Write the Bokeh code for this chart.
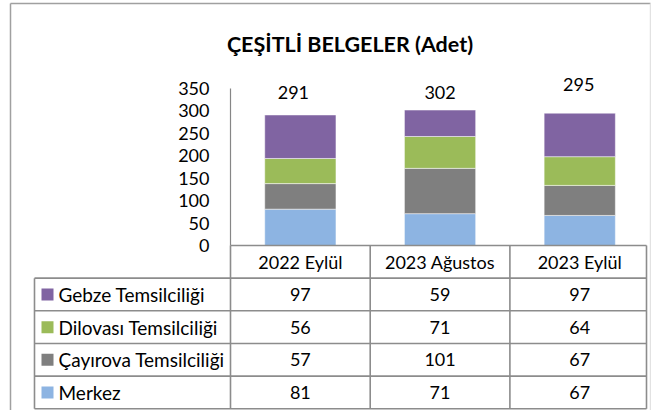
from bokeh.plotting import figure
from bokeh.models import Range1d, ColumnDataSource, LabelSet, FixedTicker
from bokeh.core.properties import value
from bokeh.embed import file_html
from bokeh.resources import INLINE

# ---------------- data ----------------
title_text = "ÇEŞİTLİ BELGELER (Adet)"
categories = ["2022 Eylül", "2023 Ağustos", "2023 Eylül"]
series_names = ["Merkez", "Çayırova Temsilciliği", "Dilovası Temsilciliği", "Gebze Temsilciliği"]
merkez = [81, 71, 67]
cayirova = [57, 101, 67]
dilovasi = [56, 71, 64]
gebze = [97, 59, 97]
y_ticks = [0, 50, 100, 150, 200, 250, 300, 350]

# ---------------- styles / layout ----------------
colors = ["#8DB4E2", "#7F7F7F", "#9BBB59", "#8064A2"]
FONT = "Lato"
TXT = "18px"
NAME_TXT = "19px"
GRID_COL = "#8C8C8C"
W, H = 651, 410
X0_PX = 230.0        # page x of the value axis
Y0_PX = 245.0        # page y of value 0
PX = 139.7           # pixels per category
K = 157.0 / 350.0    # pixels per value unit
ROW_PX = 32.66
label_x_off = [-7, 0, -1]
label_y_off = [22, 18, 29]


def fx(px):
    return (px - X0_PX) / PX


def fy(py):
    return (Y0_PX - py) / K


xs = [i + 0.5 for i in range(len(categories))]
totals = [a + b + c + d for a, b, c, d in zip(merkez, cayirova, dilovasi, gebze)]

p = figure(width=W, height=H, x_range=Range1d(fx(0), fx(W)), y_range=Range1d(fy(H), fy(0)),
           output_backend="svg", toolbar_location=None, min_border=0,
           x_axis_location=None, outline_line_color=None)
p.grid.visible = False
p.background_fill_color = "white"

# value axis drawn inside the frame at x = 0
ya = p.yaxis[0]
ya.fixed_location = 0
ya.bounds = (0, 350)
ya.ticker = FixedTicker(ticks=y_ticks)
ya.major_tick_line_color = None
ya.minor_tick_line_color = None
ya.axis_line_color = "#868686"
ya.axis_line_width = 1.2
ya.major_label_text_font = FONT
ya.major_label_text_font_size = TXT
ya.major_label_text_color = "black"
ya.major_label_standoff = 15

# chart border
p.segment(x0=[fx(10), fx(10), fx(650)], y0=[fy(3), fy(3), fy(3)],
          x1=[fx(650), fx(10), fx(650)], y1=[fy(3), fy(H), fy(H)],
          line_color=["#A0A0A0", "#A0A0A0", "#E2E2E2"], line_width=1.5)

# stacked bars
src = ColumnDataSource(dict(x=xs, merkez=merkez, cayirova=cayirova, dilovasi=dilovasi,
                            gebze=gebze, total=totals, total_txt=[str(t) for t in totals],
                            xoff=label_x_off, yoff=label_y_off))
p.vbar_stack(["merkez", "cayirova", "dilovasi", "gebze"], x="x", width=0.51,
             fill_color=colors, line_color="white", line_width=1, line_alpha=0.5, source=src)

p.add_layout(LabelSet(x="x", y="total", text="total_txt", x_offset="xoff", y_offset="yoff",
                      text_align="center", text_baseline="middle", text_font=value(FONT),
                      text_font_size=TXT, text_color="black", source=src))

# title
p.text(x=[fx(349.5)], y=[fy(43)], text=[title_text], text_align="center",
       text_baseline="alphabetic", text_font=value(FONT), text_font_style="bold",
       text_font_size="21.5px", text_color="black")

# ---------------- data table ----------------
n_rows = len(series_names) + 1


def row_y(r):
    return fy(Y0_PX + r * ROW_PX)


tbl_left = fx(34)
tbl_right = fx(646)
hy = [row_y(r) for r in range(n_rows + 1)]
p.segment(x0=[0] + [tbl_left] * (n_rows), y0=hy, x1=[tbl_right] * (n_rows + 1), y1=hy,
          line_color=GRID_COL, line_width=1.6)
vx = [0] + [i + 1 for i in range(len(categories) - 1)] + [tbl_right]
p.segment(x0=vx, y0=[row_y(0)] * len(vx), x1=vx, y1=[row_y(n_rows)] * len(vx),
          line_color=GRID_COL, line_width=1.6)
p.segment(x0=[tbl_left], y0=[row_y(1)], x1=[tbl_left], y1=[row_y(n_rows)],
          line_color=GRID_COL, line_width=1.6)

p.text(x=xs, y=[row_y(0.5)] * len(xs), text=categories, text_align="center",
       text_baseline="middle", text_font=value(FONT), text_font_size=TXT, text_color="black")

rows_top_down = list(zip(series_names, [merkez, cayirova, dilovasi, gebze], colors))[::-1]
for r, (name, vals, col) in enumerate(rows_top_down, start=1):
    yc = row_y(r + 0.5)
    p.text(x=xs, y=[yc] * len(xs), text=[str(v) for v in vals], text_align="center",
           text_baseline="middle", text_font=value(FONT), text_font_size=TXT, text_color="black")
    p.scatter(x=[fx(47)], y=[yc], marker="square", size=12, fill_color=col, line_color=None)
    p.text(x=[fx(58)], y=[yc], text=[name], text_align="left", text_baseline="middle",
           text_font=value(FONT), text_font_size=NAME_TXT, text_color="black")

open("out.html", "w").write(file_html(p, INLINE))
